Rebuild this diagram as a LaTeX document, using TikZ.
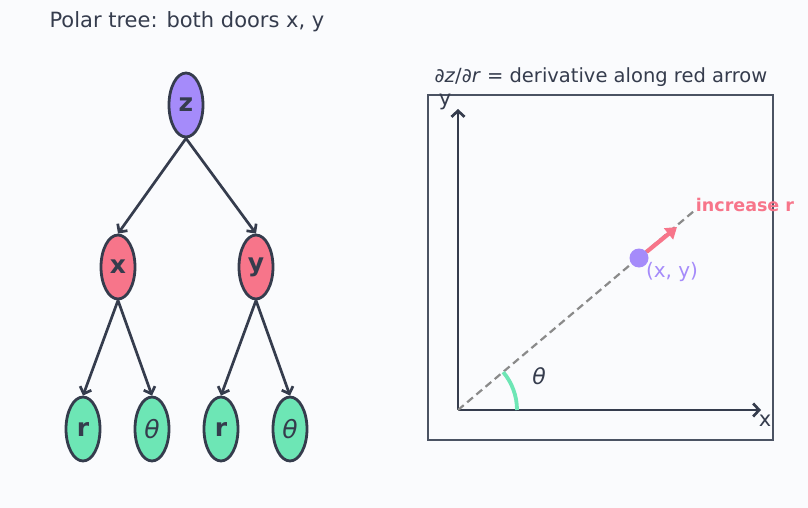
\documentclass[tikz,border=0pt]{standalone}
\usepackage{fontspec}
\setmainfont{DejaVu Sans}
\usetikzlibrary{shapes.geometric,arrows.meta}
\definecolor{ink}{HTML}{353C4D}
\definecolor{bgpaper}{HTML}{FAFBFD}
\definecolor{zpurple}{HTML}{A58BFA}
\definecolor{xyred}{HTML}{F7758A}
\definecolor{leafgreen}{HTML}{6DE6B5}
\definecolor{boxgray}{HTML}{4B5363}
\definecolor{dashgray}{HTML}{8A8A8A}
\tikzset{
  var/.style={ellipse,draw=ink,line width=2.8pt,minimum width=34pt,minimum height=64pt,inner sep=0pt,text=ink,font=\fontsize{25}{26}\selectfont\bfseries},
  edge/.style={draw=ink,line width=2.7pt,-{Straight Barb[length=6pt,width=12pt,line width=2.7pt]}},
  axis/.style={draw=ink,line width=2.7pt,-{Straight Barb[length=6pt,width=13pt,line width=2.7pt]}}
}
\begin{document}
\begin{tikzpicture}[x=1pt,y=-1pt]
\fill[bgpaper] (0,0) rectangle (808,508);
\useasboundingbox (0,0) rectangle (808,508);
% left: dependency tree
\node[anchor=west,text=ink,font=\fontsize{21}{24}\selectfont] (title) at (46,22) {Polar tree: both doors x, y};
\node[var,fill=zpurple] (z) at (186,105) {z};
\node[var,fill=xyred] (x) at (118,267) {x};
\node[var,fill=xyred] (y) at (256,267) {y};
\node[var,fill=leafgreen] (xr) at (83,429) {r};
\node[var,fill=leafgreen,font=\fontsize{25}{26}\selectfont\itshape] (xt) at (152,429) {θ};
\node[var,fill=leafgreen] (yr) at (221,429) {r};
\node[var,fill=leafgreen,font=\fontsize{25}{26}\selectfont\itshape] (yt) at (290,429) {θ};
\draw[edge] (z.south) -- (x.north);
\draw[edge] (z.south) -- (y.north);
\draw[edge] (x.south) -- (xr.north);
\draw[edge] (x.south) -- (xt.north);
\draw[edge] (y.south) -- (yr.north);
\draw[edge] (y.south) -- (yt.north);
% right: plane with the r direction
\node[anchor=west,text=ink,font=\fontsize{19.5}{22}\selectfont] (head) at (431,77) {∂\textit{z}/∂\textit{r} = derivative along red arrow};
\draw[boxgray,line width=2pt] (428,95) rectangle (773,440);
\coordinate (o) at (458,410);
\coordinate (ytip) at (458,109);
\coordinate (xtip) at (761,410);
\coordinate (rayend) at (694,211);
\coordinate (rtip) at (677,227);
\draw[axis] (o) -- (ytip);
\draw[axis] (o) -- (xtip);
\node[text=ink,font=\fontsize{21}{22}\selectfont] (ylab) at (445,102) {y};
\node[text=ink,font=\fontsize{21}{22}\selectfont] (xlab) at (765,421) {x};
\draw[dashgray,line width=2.2pt,dash pattern=on 7.5pt off 4.5pt] (o) -- (rayend);
\draw[leafgreen,line width=3.8pt] ([shift={(0:59)}]o) arc[start angle=0,end angle=-40,radius=59];
\node[text=ink,font=\fontsize{22}{24}\selectfont\itshape] (tlab) at (539,376) {θ};
\node[circle,fill=zpurple,minimum size=19pt,inner sep=0pt] (p) at (639,258) {};
\draw[xyred,line width=4.2pt,-{Triangle[length=11pt,width=14pt]}] (p) -- (rtip);
\node[text=xyred,font=\fontsize{17.5}{20}\selectfont\bfseries] (inc) at (745,205) {increase r};
\node[text=zpurple,font=\fontsize{20}{22}\selectfont] (plab) at (672,272) {(x, y)};
\end{tikzpicture}
\end{document}
